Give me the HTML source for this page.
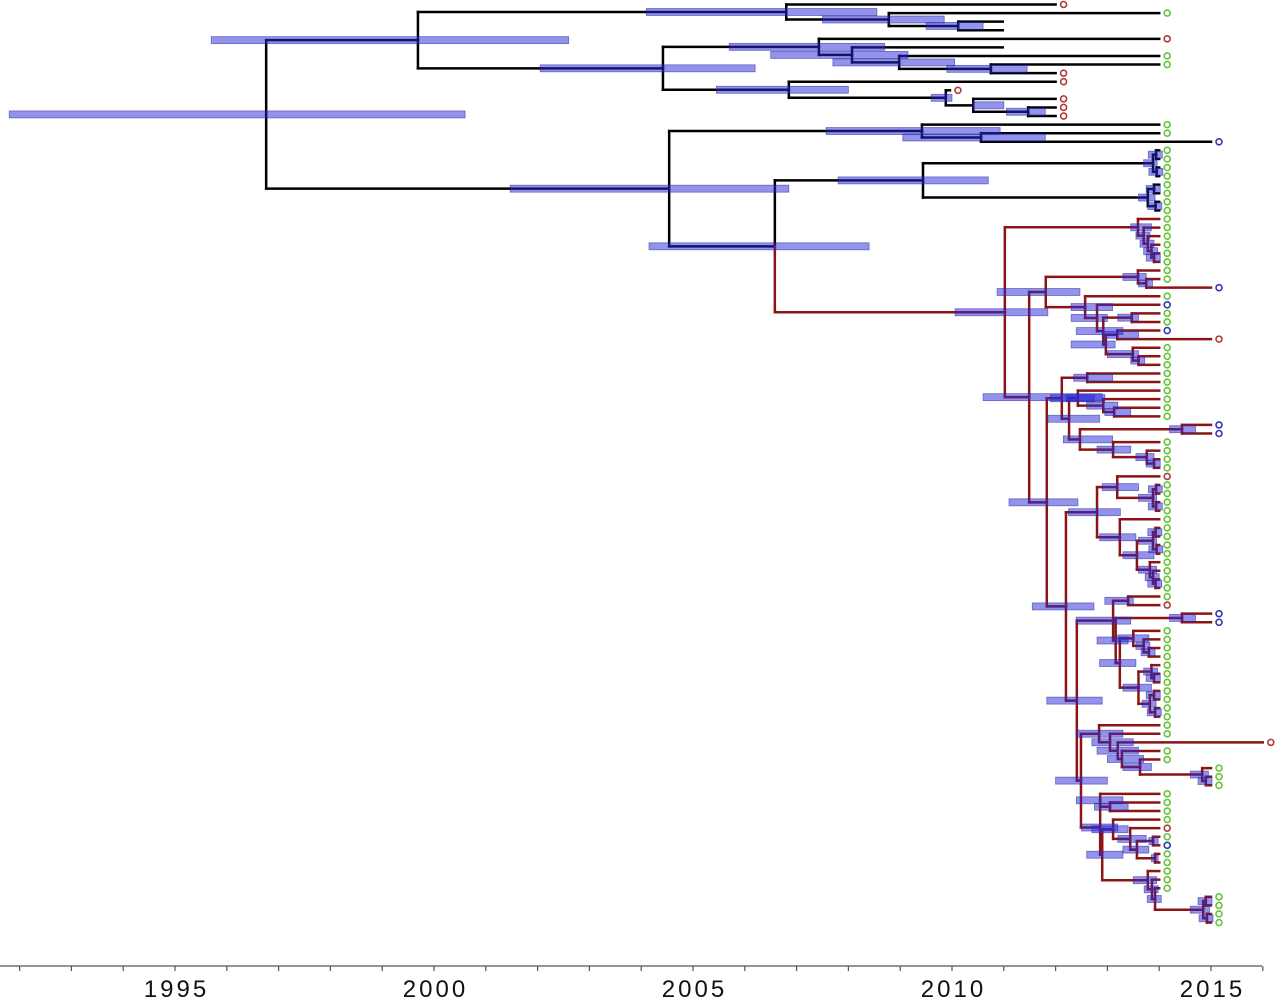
<!DOCTYPE html>
<html><head><meta charset="utf-8"><title>Time-scaled phylogeny</title>
<style>
html,body{margin:0;padding:0;background:#fff;width:1280px;height:1000px;overflow:hidden}
svg{display:block}
text{font-family:"Liberation Sans",sans-serif}
</style></head>
<body>
<svg id="chart" width="1280" height="1000" viewBox="0 0 1280 1000" xmlns="http://www.w3.org/2000/svg">
<g id="branches"></g>
<g id="bars"></g>
<g id="tips"></g>
<g id="axis"></g>
</svg>
<script>
// ---- data ----
var tickYears = [1992,1993,1994,1995,1996,1997,1998,1999,2000,2001,2002,2003,2004,2005,2006,2007,2008,2009,2010,2011,2012,2013,2014,2015,2016];
var labelYears = [1995,2000,2005,2010,2015];
var rowStart = 4.5, rowStep = 8.58;
// node: (N:age:hpdLow:hpdHigh children...)  R: marks red clade; leaf: colour + tip year (2000+)
var redCladeText = "(R:2011.02:2010.06:2011.85" +
 " (N:2013.59:2013.45:2013.85 g14 (N:2013.7 g14 (N:2013.78 g14 (N:2013.85 g14 (N:2013.9 g14 g14)))))" +
 " (N:2011.49:2010.6:2012.9" +
 "  (N:2011.81:2010.87:2012.47" +
 "   (N:2013.59:2013.3:2013.75 g14 (N:2013.75 g14 b15))" +
 "   (N:2012.57:2012.3:2013.1 g14" +
 "    (N:2012.80:2012.3:2013.0 b14" +
 "     (N:2012.92:2012.4:2013.3" +
 "      (N:2013.47:2013.2:2013.6 g14 g14)" +
 "      (N:2012.97:2012.3:2013.15" +
 "       (N:2013.19:2012.9:2013.6 b14 r15)" +
 "       (N:2013.49:2013.0:2013.6 g14 (N:2013.6 g14 g14)))))))" +
 "  (N:2011.83:2011.1:2012.43" +
 "   (N:2012.12:2011.9:2012.75" +
 "    (N:2012.61:2012.35:2013.1 g14 g14)" +
 "    (N:2012.26:2011.85:2012.85" +
 "     (N:2012.43:2012.2:2012.95 g14 (N:2012.92:2012.6:2013.2 g14 (N:2013.13:2012.95:2013.45 g14 g14)))" +
 "     (N:2012.47:2012.15:2013.1" +
 "      (N:2014.44:2014.2:2014.7 b15 b15)" +
 "      (N:2013.11:2012.8:2013.45 g14 (N:2013.76:2013.55:2013.9 g14 (N:2013.9 g14 g14))))))" +
 "   (N:2012.20:2011.55:2012.74" +
 "    (N:2012.80:2012.25:2013.25" +
 "     (N:2013.19:2012.9:2013.6 r14 (N:2013.88:2013.6:2013.95 (N:2013.94 g14 g14) (N:2013.94 g14 g14)))" +
 "     (N:2013.24:2012.85:2013.55 g14" +
 "      (N:2013.57:2013.3:2013.9" +
 "       (N:2013.88:2013.6:2013.95 (N:2013.93 g14 g14) (N:2013.95 g14 g14))" +
 "       (N:2013.82:2013.6:2013.95 g14 (N:2013.88 g14 (N:2013.93 g14 g14))))))" +
 "    (N:2012.41:2011.83:2012.9" +
 "     (N:2013.11:2012.4:2013.45" +
 "      (N:2013.40:2012.95:2013.5 g14 r14)" +
 "      (N:2013.16:2012.8:2013.4" +
 "       (N:2014.44:2014.2:2014.7 b15 b15)" +
 "       (N:2013.24:2012.85:2013.55" +
 "        (N:2013.5:2013.2:2013.8 g14 (N:2013.7 g14 (N:2013.8 g14 g14)))" +
 "        (N:2013.6:2013.3:2013.85 (N:2013.85 g14 (N:2013.9 g14 g14)) (N:2013.82 (N:2013.9 g14 g14) (N:2013.92 g14 g14))))))" +
 "     (N:2012.49:2012.0:2013.0" +
 "      (N:2012.84:2012.4:2013.3 g14 (N:2013.05:2012.7:2013.5 g14 (N:2013.2:2012.8:2013.6 r16 (N:2013.28:2013.0:2013.7 g14 (N:2013.63:2013.3:2013.85 g14 (N:2014.83:2014.6:2014.95 g15 (N:2014.9 g15 g15)))))))" +
 "      (N:2012.86:2012.5:2013.2" +
 "       (N:2012.86:2012.4:2013.3 g14 (N:2013.05:2012.75:2013.4 g14 g14))" +
 "       (N:2012.9:2012.6:2013.3" +
 "        (N:2013.11:2012.7:2013.4 g14 (N:2013.44:2013.2:2013.75 r14 (N:2013.57:2013.3:2013.8 (N:2013.88:2013.8:2013.98 g14 b14) (N:2013.92:2013.85:2013.98 g14 g14))))" +
 "        (N:2013.78:2013.5:2013.95 g14 (N:2013.86 g14 (N:2013.92 g14 (N:2014.85:2014.6:2014.97 (N:2014.9 g15 g15) (N:2014.92 g15 g15)))))))))))";
var treeText = "(N:1996.76:1991.8:2000.6" +
 " (N:1999.69:1995.7:2002.6" +
 "  (N:2006.80:2004.1:2008.55 r12 (N:2008.78:2007.5:2009.85 g14 (N:2010.12:2009.5:2010.6 n10.98 n10.98)))" +
 "  (N:2004.42:2002.05:2006.2" +
 "   (N:2007.43:2005.7:2008.7 r14 (N:2008.07:2006.5:2009.15 n10.98 (N:2008.98:2007.7:2010.05 g14 (N:2010.75:2009.9:2011.45 g14 r12))))" +
 "   (N:2006.85:2005.45:2008.0 r12 (N:2009.88:2009.6:2010.0 r9.96 (N:2010.41:2010.4:2011.0 r12 (N:2011.47:2011.05:2011.8 r12 r12))))))" +
 " (N:2004.54:2001.47:2006.85" +
 "  (N:2009.42:2007.57:2010.93 g14 (N:2010.56:2009.05:2011.8 g14 b15))" +
 "  (N:2006.58:2004.15:2008.4" +
 "   (N:2009.44:2007.8:2010.7 (N:2013.88:2013.7:2013.96 (N:2013.94 g14 g14) (N:2013.95 g14 g14)) (N:2013.78:2013.6:2013.92 (N:2013.9 g14 g14) (N:2013.93 g14 g14)))" +
 "   " + redCladeText + ")))";

// ---- parser (tolerant) ----
function parseTree(str){
  var toks = str.replace(/\(/g,' ( ').replace(/\)/g,' ) ').split(/\s+/).filter(function(s){return s.length;});
  var root=null, stack=[];
  for(var i=0;i<toks.length;i++){
    var tk=toks[i];
    if(tk==='('){
      var hdr=toks[i+1]||'N:2013'; i++;
      var p=hdr.split(':');
      var nd={t:parseFloat(p[1]),h:(p.length>=4?[parseFloat(p[2]),parseFloat(p[3])]:null),kids:[],red:p[0]==='R'};
      if(stack.length) stack[stack.length-1].kids.push(nd); else if(!root) root=nd;
      stack.push(nd);
    } else if(tk===')'){
      if(stack.length) stack.pop();
    } else {
      var c=tk.charAt(0); var t=2000+parseFloat(tk.slice(1));
      var lf={t:t,c:(c==='n'?'':c),leaf:true};
      if(stack.length) stack[stack.length-1].kids.push(lf);
    }
  }
  return root;
}

// ---- scales ----
function xs(year){return 175 + (year-1995)*51.8;}
function ys(row){return rowStart + row*rowStep;}
var NS="http://www.w3.org/2000/svg";
function mk(tag,attrs,parent){var e=document.createElementNS(NS,tag);for(var k in attrs)e.setAttribute(k,attrs[k]);parent.appendChild(e);return e;}

var gB=document.getElementById('branches'), gH=document.getElementById('bars'), gT=document.getElementById('tips'), gA=document.getElementById('axis');
var BLACK_COL='#000', RED_COL='#8c1414';
var tipCol={g:'#66c43a',r:'#b03a3a',b:'#3535b5'};
var LW=2.5;
var rowCounter=0;
function layout(n,red){
  n.isRed = red || !!n.red;
  if(n.leaf){n.y=ys(rowCounter++);return;}
  n.kids = n.kids.filter(function(k){return k;});
  n.kids.forEach(function(k){layout(k,n.isRed);});
  n.y = n.kids.length ? (n.kids[0].y+n.kids[n.kids.length-1].y)/2 : ys(rowCounter);
}
function draw(n,parentT){
  var col=n.isRed?RED_COL:BLACK_COL;
  var x=xs(n.t);
  if(parentT!==null){
    var br=mk('line',{x1:xs(parentT),y1:n.y,x2:x,y2:n.y,stroke:col,'stroke-width':LW,'stroke-linecap':'square'},gB);
    
    
  }
  if(n.leaf){
    if(n.c){
      var c=mk('circle',{cx:x+8,cy:n.y,r:3,fill:'none',stroke:tipCol[n.c],'stroke-width':1.6},gT);
      
      
    }
    return;
  }
  n.kids.forEach(function(k){
    var v=mk('line',{x1:x,y1:n.y,x2:x,y2:k.y,stroke:k.isRed?RED_COL:BLACK_COL,'stroke-width':LW,'stroke-linecap':'square'},gB);
    
    
    draw(k,n.t);
  });
  var h=n.h||[n.t-0.15,n.t+0.12];
  var b=mk('rect',{x:xs(h[0]),y:n.y-3.5,width:Math.max(2,xs(h[1])-xs(h[0])),height:7,fill:'rgba(40,40,215,0.5)',stroke:'rgba(40,40,160,0.6)','stroke-width':0.8},gH);
  
  
}
try{
  var tree=parseTree(treeText);
  layout(tree,false);
  draw(tree,null);
}catch(err){}

// ---- axis ----
var axLine=mk('line',{x1:0,y1:966,x2:1262,y2:966,stroke:'#555','stroke-width':1.3},gA);


tickYears.forEach(function(yr){
  var t=mk('line',{x1:xs(yr),y1:966,x2:xs(yr),y2:971,stroke:'#555','stroke-width':1.2},gA);
  
  
});
labelYears.forEach(function(yr){
  var tx=mk('text',{x:xs(yr)+1.5,y:997,'text-anchor':'middle','font-size':24,'letter-spacing':3,fill:'#111'},gA);
  tx.textContent=String(yr);
  
  
});
</script>
</body></html>
